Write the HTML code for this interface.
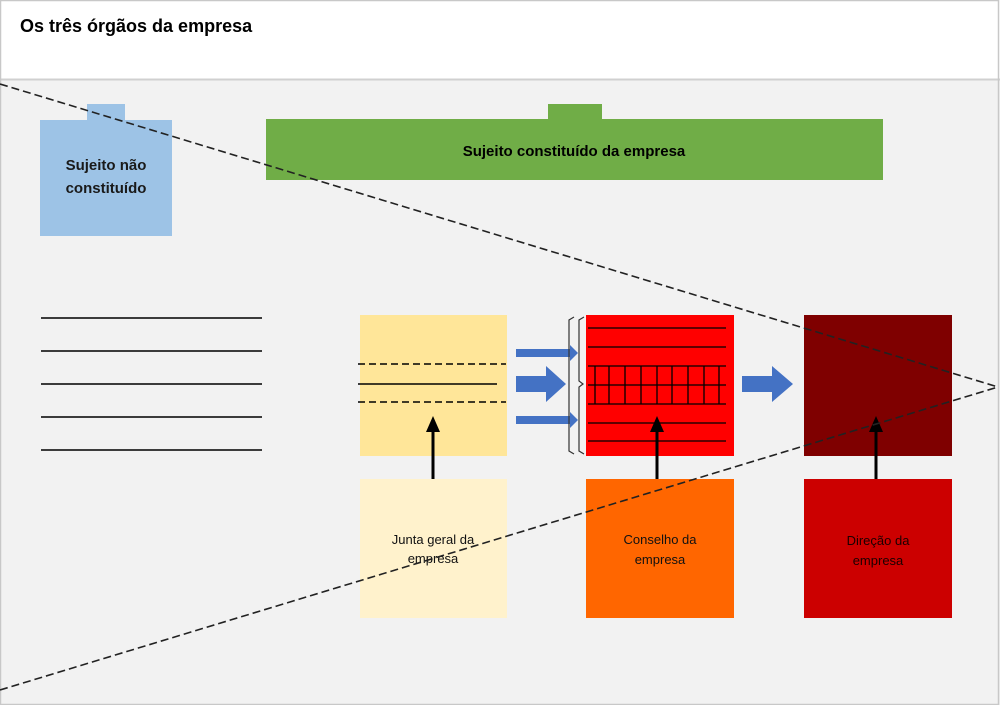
<!DOCTYPE html>
<html><head><meta charset="utf-8"><style>
html,body{margin:0;padding:0;background:#f2f2f2;}
svg{display:block;font-family:"Liberation Sans",sans-serif;}
</style></head><body>
<svg width="1000" height="705" viewBox="0 0 1000 705" xmlns="http://www.w3.org/2000/svg">
<rect x="0" y="0" width="1000" height="705" fill="#f2f2f2"/>
<rect x="0" y="0" width="1000" height="79" fill="#fff"/>
<line x1="0" y1="79.5" x2="1000" y2="79.5" stroke="#d0d0d0" stroke-width="2"/>
<rect x="0.5" y="0.5" width="998" height="704" fill="none" stroke="#c8c8c8" stroke-width="1.5"/>
<text x="20" y="32" font-size="18" font-weight="bold" fill="#000">Os três órgãos da empresa</text>

<rect x="87" y="104" width="38" height="18" fill="#9dc3e6"/>
<rect x="40" y="120" width="132" height="116" fill="#9dc3e6"/>
<text x="106" y="170" font-size="15" font-weight="bold" text-anchor="middle" fill="#1a1a1a">Sujeito não</text>
<text x="106" y="193" font-size="15" font-weight="bold" text-anchor="middle" fill="#1a1a1a">constituído</text>

<rect x="548" y="104" width="54" height="17" fill="#70ad47"/>
<rect x="266" y="119" width="617" height="61" fill="#70ad47"/>
<text x="574" y="156" font-size="15" font-weight="bold" text-anchor="middle" fill="#000">Sujeito constituído da empresa</text>

<g stroke="#000" stroke-width="1.6">
<line x1="41" y1="318" x2="262" y2="318"/><line x1="41" y1="351" x2="262" y2="351"/>
<line x1="41" y1="384" x2="262" y2="384"/><line x1="41" y1="417" x2="262" y2="417"/>
<line x1="41" y1="450" x2="262" y2="450"/>
</g>

<rect x="360" y="315" width="147" height="141" fill="#ffe699"/>
<g stroke="#000" stroke-width="1.4">
<line x1="358" y1="364" x2="506" y2="364" stroke-dasharray="7,4"/>
<line x1="358" y1="384" x2="497" y2="384"/>
<line x1="358" y1="402" x2="506" y2="402" stroke-dasharray="7,4"/>
</g>

<g fill="#4472c4">
<polygon points="516,349 570,349 570,345 578,353 570,361 570,357 516,357"/>
<polygon points="516,376 546,376 546,366 566,384 546,402 546,392 516,392"/>
<polygon points="516,416 570,416 570,412 578,420 570,428 570,424 516,424"/>
<polygon points="742,376 772,376 772,366 793,384 772,402 772,392 742,392"/>
</g>
<g fill="none" stroke="#333" stroke-width="1.2">
<path d="M574,317 L569,320 L569,451 L574,454"/>
<path d="M584,317 L579,320 L579,381 L583,384 L579,387 L579,451 L584,454"/>
</g>

<rect x="586" y="315" width="148" height="141" fill="#ff0000"/>
<g stroke="#000" stroke-width="1.3">
<line x1="588" y1="328" x2="726" y2="328"/><line x1="588" y1="347" x2="726" y2="347"/>
<line x1="588" y1="366" x2="726" y2="366"/><line x1="588" y1="385" x2="726" y2="385"/>
<line x1="588" y1="404" x2="726" y2="404"/><line x1="588" y1="423" x2="726" y2="423"/>
<line x1="588" y1="441" x2="726" y2="441"/>
<line x1="595" y1="366" x2="595" y2="404"/><line x1="609" y1="366" x2="609" y2="404"/>
<line x1="625" y1="366" x2="625" y2="404"/><line x1="641" y1="366" x2="641" y2="404"/>
<line x1="657" y1="366" x2="657" y2="404"/><line x1="672" y1="366" x2="672" y2="404"/>
<line x1="688" y1="366" x2="688" y2="404"/><line x1="704" y1="366" x2="704" y2="404"/>
<line x1="719" y1="366" x2="719" y2="404"/>
</g>

<rect x="804" y="315" width="148" height="141" fill="#7f0000"/>

<rect x="360" y="479" width="147" height="139" fill="#fff2cc"/>
<rect x="586" y="479" width="148" height="139" fill="#ff6600"/>
<rect x="804" y="479" width="148" height="139" fill="#cc0000"/>
<g font-size="13" text-anchor="middle" fill="#111">
<text x="433" y="544">Junta geral da</text><text x="433" y="563">empresa</text>
<text x="660" y="544">Conselho da</text><text x="660" y="564">empresa</text>
<text x="878" y="545" fill="#1a0000">Direção da</text><text x="878" y="565" fill="#1a0000">empresa</text>
</g>

<g stroke="#000" stroke-width="3">
<line x1="433" y1="479" x2="433" y2="430"/>
<line x1="657" y1="479" x2="657" y2="430"/>
<line x1="876" y1="479" x2="876" y2="430"/>
</g>
<g fill="#000">
<polygon points="426,432 440,432 433,416"/>
<polygon points="650,432 664,432 657,416"/>
<polygon points="869,432 883,432 876,416"/>
</g>

<g stroke="#222" stroke-width="1.6" stroke-dasharray="8,4" fill="none">
<line x1="0" y1="84" x2="998" y2="387"/>
<line x1="0" y1="690" x2="998" y2="387"/>
</g>
</svg>
</body></html>
